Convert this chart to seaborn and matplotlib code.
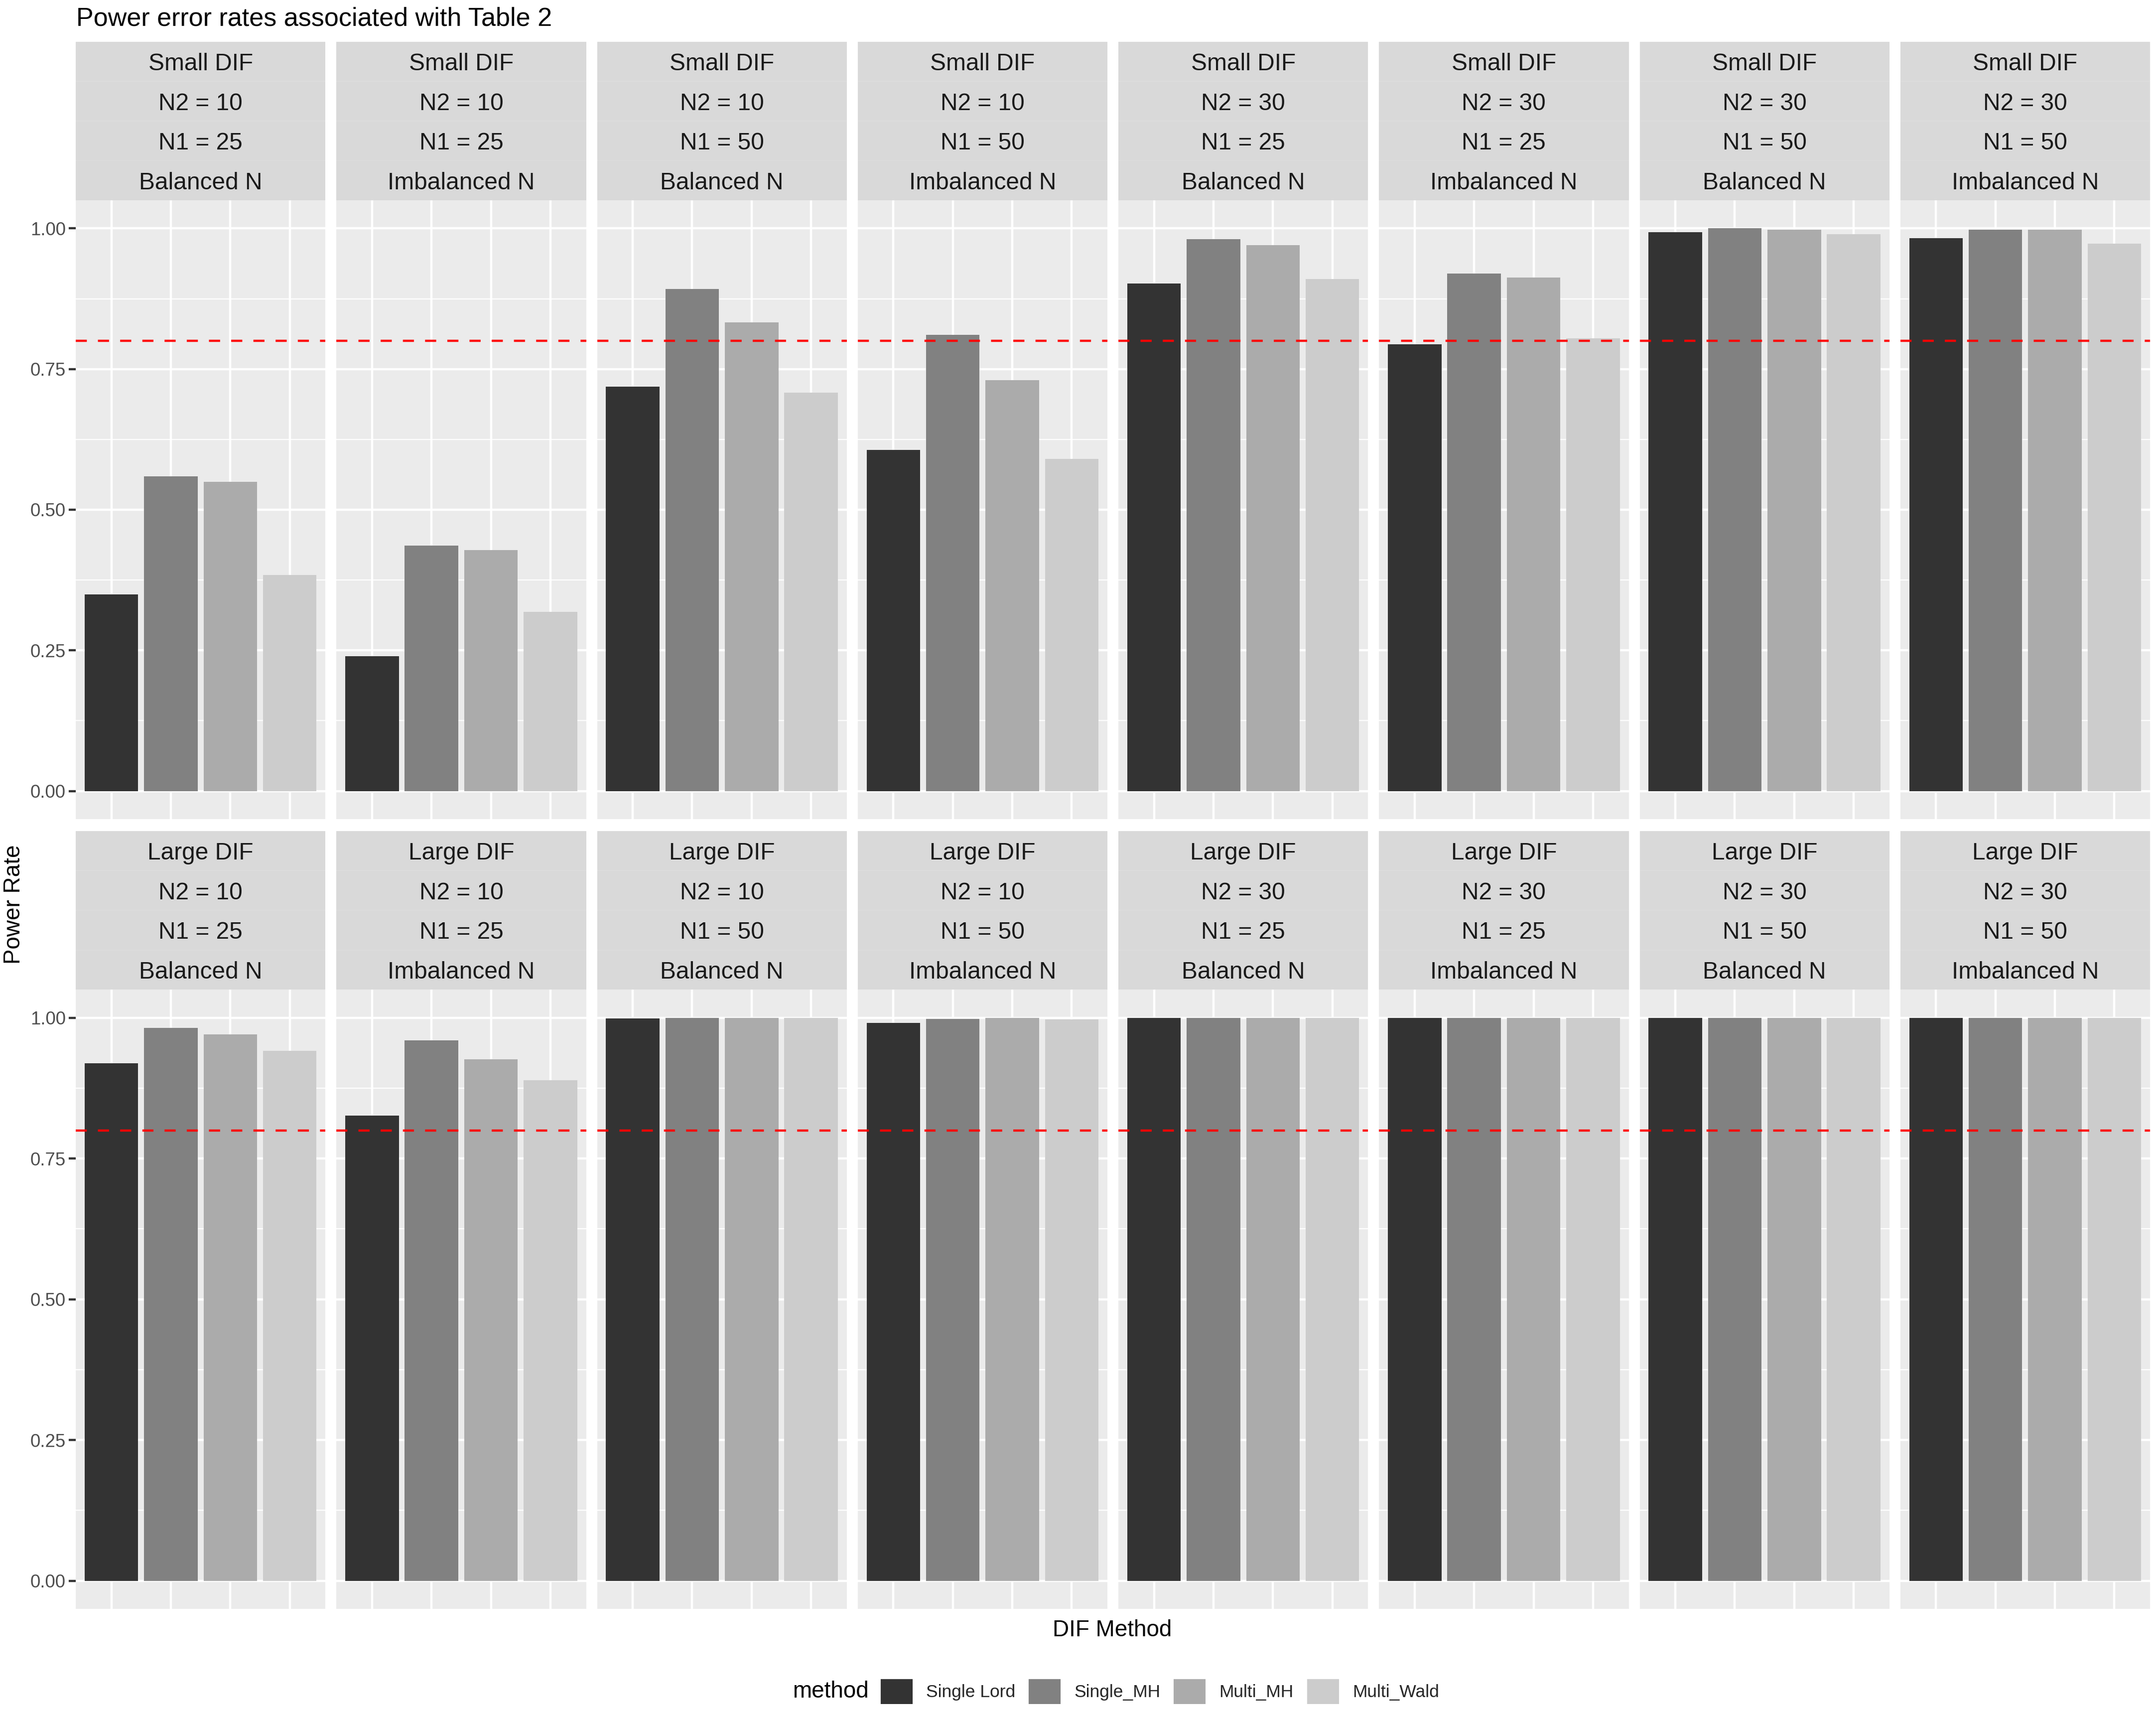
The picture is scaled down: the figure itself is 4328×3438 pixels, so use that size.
import numpy as np
import pandas as pd
import matplotlib
matplotlib.use("Agg")
import matplotlib.pyplot as plt
from matplotlib.patches import Patch
from matplotlib.ticker import FixedLocator
import seaborn as sns

# ---------------- data ----------------
methods = ["Single Lord", "Single_MH", "Multi_MH", "Multi_Wald"]
dif_levels = ["Small DIF", "Large DIF"]
panel_n2 = ["N2 = 10", "N2 = 10", "N2 = 10", "N2 = 10", "N2 = 30", "N2 = 30", "N2 = 30", "N2 = 30"]
panel_n1 = ["N1 = 25", "N1 = 25", "N1 = 50", "N1 = 50", "N1 = 25", "N1 = 25", "N1 = 50", "N1 = 50"]
panel_balance = ["Balanced N", "Imbalanced N"] * 4

single_lord_small = [0.349, 0.240, 0.719, 0.606, 0.902, 0.794, 0.993, 0.983]
single_mh_small   = [0.559, 0.436, 0.892, 0.811, 0.981, 0.920, 1.000, 0.998]
multi_mh_small    = [0.550, 0.428, 0.833, 0.730, 0.970, 0.913, 0.998, 0.998]
multi_wald_small  = [0.384, 0.318, 0.708, 0.590, 0.910, 0.805, 0.990, 0.973]

single_lord_large = [0.919, 0.826, 0.999, 0.991, 1.000, 1.000, 1.000, 1.000]
single_mh_large   = [0.982, 0.960, 1.000, 0.998, 1.000, 1.000, 1.000, 1.000]
multi_mh_large    = [0.970, 0.926, 1.000, 1.000, 1.000, 1.000, 1.000, 1.000]
multi_wald_large  = [0.941, 0.889, 1.000, 0.997, 1.000, 1.000, 1.000, 1.000]

threshold = 0.8
y_ticks = [0.00, 0.25, 0.50, 0.75, 1.00]
y_tick_labels = ["0.00", "0.25", "0.50", "0.75", "1.00"]

values = {
    "Small DIF": [single_lord_small, single_mh_small, multi_mh_small, multi_wald_small],
    "Large DIF": [single_lord_large, single_mh_large, multi_mh_large, multi_wald_large],
}
rows = []
for dif in dif_levels:
    for m, series in zip(methods, values[dif]):
        for p, v in enumerate(series):
            rows.append(dict(dif=dif, panel=p, method=m, rate=v))
df = pd.DataFrame(rows)

palette = {"Single Lord": "#333333", "Single_MH": "#818181",
           "Multi_MH": "#ABABAB", "Multi_Wald": "#CCCCCC"}

# ---------------- style ----------------
sns.set_theme(style="darkgrid")
plt.rcParams["font.family"] = ["Liberation Sans", "DejaVu Sans"]

W, H = 4328, 3438
DPI = 300
fig = plt.figure(figsize=(W / DPI, H / DPI), dpi=DPI, facecolor="white")

def fx(px):
    return px / W

def fy(px):
    return 1 - px / H

col_left0 = 152
col_w = 501.25
col_gap = 22.0
row_specs = [  # strip top, axes top, axes bottom (px)
    (84, 402, 1644),
    (1668, 1986, 3229),
]
grid_lw = 1.07
for r, dif in enumerate(dif_levels):
    s_top, a_top, a_bot = row_specs[r]
    for c in range(8):
        left = col_left0 + c * (col_w + col_gap)
        ax = fig.add_axes([fx(left), fy(a_bot), fx(col_w), (a_bot - a_top) / H])
        sub = df[(df.dif == dif) & (df.panel == c)]
        sns.barplot(data=sub, x="method", y="rate", hue="method", order=methods,
                    hue_order=methods, palette=palette, dodge=False, width=0.9,
                    saturation=1, errorbar=None, legend=False, linewidth=0, ax=ax)
        ax.set_facecolor("#EBEBEB")
        ax.set_xlim(-0.6, 3.6)
        ax.set_ylim(-0.05, 1.05)
        ax.set_axisbelow(True)
        ax.grid(False)
        ax.yaxis.set_major_locator(FixedLocator(y_ticks))
        ax.yaxis.set_minor_locator(FixedLocator([0.125, 0.375, 0.625, 0.875]))
        ax.xaxis.set_major_locator(FixedLocator(range(len(methods))))
        ax.grid(True, which="major", axis="both", color="white", linewidth=grid_lw)
        ax.grid(True, which="minor", axis="y", color="white", linewidth=grid_lw / 2)
        ax.axhline(threshold, color="red", linestyle=(0, (5, 5)), linewidth=grid_lw, zorder=5)
        for sp in ax.spines.values():
            sp.set_visible(False)
        ax.set_xlabel("")
        ax.set_ylabel("")
        ax.tick_params(axis="x", which="both", bottom=False, labelbottom=False)
        ax.tick_params(axis="y", which="minor", left=False)
        if c == 0:
            ax.set_yticklabels(y_tick_labels)
            ax.tick_params(axis="y", which="major", left=True, length=3.3, width=1.07,
                           color="#333333", labelcolor="#4D4D4D", labelsize=8.8, pad=1.5)
        else:
            ax.tick_params(axis="y", which="major", left=False, labelleft=False)

        # strip
        sax = fig.add_axes([fx(left), fy(a_top), fx(col_w), (a_top - s_top) / H])
        sax.set_facecolor("#D9D9D9")
        sax.set_xlim(0, 1)
        sax.set_ylim(0, 4)
        sax.set_xticks([])
        sax.set_yticks([])
        sax.grid(False)
        for sp in sax.spines.values():
            sp.set_visible(False)
        labels = [dif, panel_n2[c], panel_n1[c], panel_balance[c]]
        for k, lab in enumerate(labels):
            sax.text(0.5, 3.5 - k, lab, ha="center", va="center_baseline",
                     fontsize=11.5, color="#1A1A1A")
        for k in (1, 2, 3):
            sax.axhline(k, color="#DCDCDC", linewidth=0.5)

# titles
fig.text(fx(153), fy(52), "Power error rates associated with Table 2",
         ha="left", va="baseline", fontsize=12.5, color="black")
fig.text(fx(2233), fy(3284), "DIF Method", ha="center", va="baseline",
         fontsize=11, color="black")
fig.text(fx(28), fy(1815), "Power Rate", ha="center", va="center",
         rotation=90, fontsize=11, color="black")

# legend
leg_fs = 8.5
px_per_fs = leg_fs * DPI / 72
fig.text(fx(1744), fy(3395), "method", ha="right", va="center",
         fontsize=11, color="black")
handles = [Patch(facecolor=palette[m], edgecolor="none", label=m) for m in methods]
fig.legend(handles=handles, loc="center left", bbox_to_anchor=(fx(1768), fy(3395)),
           ncol=4, frameon=False, fontsize=leg_fs, handlelength=64 / px_per_fs,
           handleheight=65 / px_per_fs, handletextpad=27 / px_per_fs,
           columnspacing=27 / px_per_fs, borderpad=0, borderaxespad=0)

fig.savefig("out.png", dpi=DPI, facecolor="white")
